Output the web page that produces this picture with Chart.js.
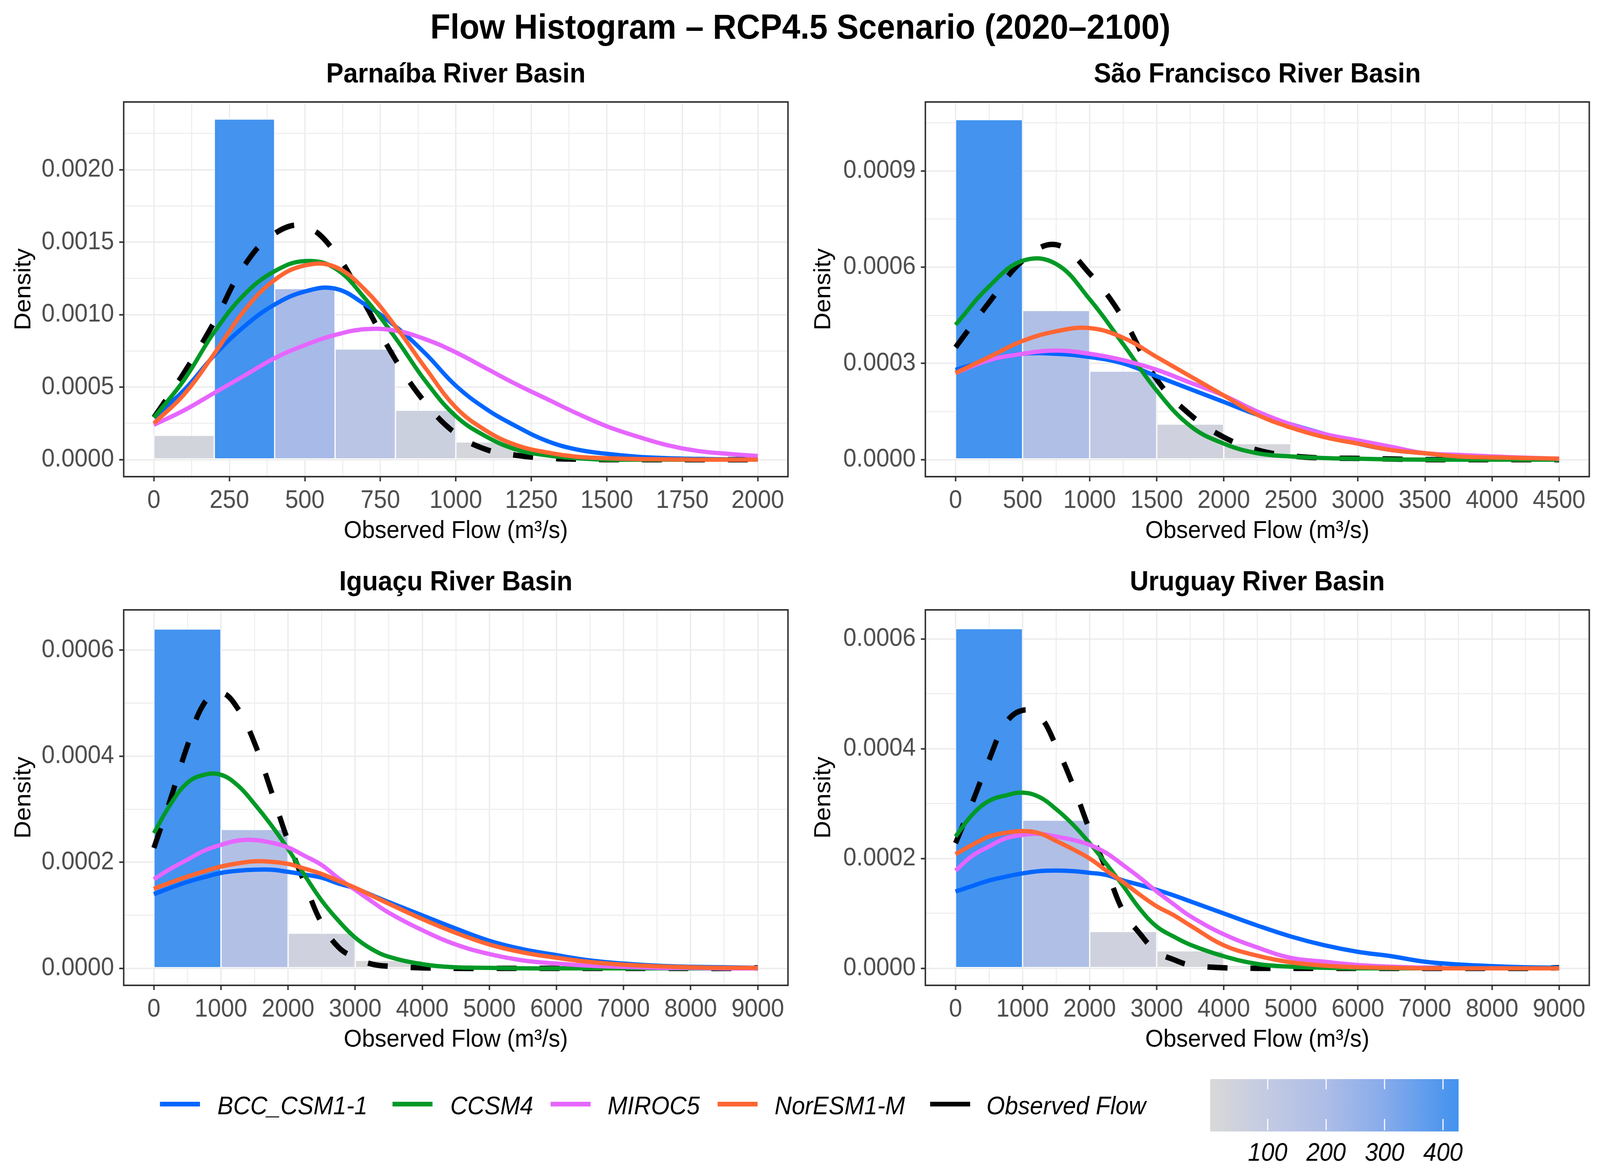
<!DOCTYPE html>
<html>
<head>
<meta charset="utf-8">
<title>Flow Histogram</title>
<script src="https://cdn.jsdelivr.net/npm/chart.js@4/dist/chart.umd.min.js"></script>
<style>
  html, body { margin: 0; padding: 0; background: #fff; overflow: hidden; }
  #page { width: 4321px; height: 3010px; position: relative; transform-origin: 0 0; font-family: "Liberation Sans", Arial, sans-serif; }
  canvas { position: absolute; }
  #mainTitle { position: absolute; left: 0; width: 4323px; top: 19px; text-align: center; font-size: 88.6px; line-height: 100px; font-weight: bold; color: #000; }
  .key { position: absolute; top: 2820px; width: 108px; height: 12px; }
  .label { position: absolute; top: 2793px; font-size: 64px; line-height: 74px; font-style: italic; color: #000; white-space: nowrap; }
</style>
</head>
<body>
<div id="page">
<div id="mainTitle">Flow Histogram – RCP4.5 Scenario (2020–2100)</div>
<canvas id="c1" width="2160" height="1270" style="left:0;top:150px"></canvas>
<canvas id="c2" width="2161" height="1270" style="left:2160px;top:150px"></canvas>
<canvas id="c3" width="2160" height="1270" style="left:0;top:1450px"></canvas>
<canvas id="c4" width="2161" height="1270" style="left:2160px;top:1450px"></canvas>
<canvas id="bar" width="1000" height="260" style="left:3100px;top:2740px"></canvas>
</div>
<script>
// the window can be narrower than the 4321 wide layout, squeeze it in
document.getElementById('page').style.transform = 'scale(' + (window.innerWidth / 4321) + ',1)';

// series names and colours
var seriesNames = ['Observed Flow', 'BCC_CSM1-1', 'CCSM4', 'MIROC5', 'NorESM1-M'];
var seriesColors = ['#000000', '#0066FF', '#009926', '#E666FF', '#FF6633'];
var legendOrder = ['BCC_CSM1-1', 'CCSM4', 'MIROC5', 'NorESM1-M', 'Observed Flow'];

// Parnaiba
var parnaibaX = [0, 100, 200, 300, 400, 500, 600, 700, 800, 900, 1000, 1100, 1200, 1300, 1400, 1500, 1600, 1700, 1800, 1900, 2000];
var parnaibaObs = [.00029, .00060, .00095, .00134, .00156, .00161, .00143, .00107, .00069, .00039, .00018, .00007, .00003, .00001, .000003, 0, 0, 0, 0, 0, 0];
var parnaibaBcc = [.00029, .00048, .00072, .00092, .00107, .00116, .00118, .00107, .00092, .00073, .00051, .00035, .00023, .00013, .00007, .00004, .00002, .00001, .000005, .000002, 0];
var parnaibaCcsm = [.00029, .00055, .00088, .00114, .00130, .00137, .00132, .00111, .00084, .00054, .00030, .00016, .00007, .00003, .00001, 0, 0, 0, 0, 0, 0];
var parnaibaMiroc = [.00024, .00034, .00046, .00058, .00070, .00079, .00086, .00090, .00089, .00083, .00074, .00063, .00052, .00042, .00032, .00023, .00016, .00010, .00006, .00004, .000025];
var parnaibaNor = [.00025, .00045, .00073, .00103, .00124, .00134, .00133, .00117, .00092, .00063, .00036, .00020, .00010, .00005, .00002, .00001, .000004, .000002, 0, 0, 0];
var parnaibaBinX = [100, 300, 500, 700, 900, 1100, 1300];
var parnaibaBins = [.000168, .00235, .00118, .000764, .000341, .000122, .000012];
var parnaibaXTicks = [0, 250, 500, 750, 1000, 1250, 1500, 1750, 2000];
var parnaibaXMinor = [125, 375, 625, 875, 1125, 1375, 1625, 1875];
var parnaibaYTicks = [0, .0005, .001, .0015, .002];
var parnaibaYMinor = [.00025, .00075, .00125, .00175, .00225];

// Sao Francisco
var saoX = [0, 250, 500, 750, 1000, 1250, 1500, 1750, 2000, 2250, 2500, 2750, 3000, 3250, 3500, 3750, 4000, 4250, 4500];
var saoObs = [.00035, .00049, .00062, .00067, .00058, .00044, .00025, .00014, .00007, .00003, .000012, .000005, .000004, .000002, 0, 0, 0, 0, 0];
var saoBcc = [.00028, .00031, .00033, .00033, .00032, .00030, .00026, .00022, .00018, .00014, .00011, .00008, .00005, .00003, .00002, .00001, .000005, .000002, 0];
var saoCcsm = [.00042, .00054, .00062, .00061, .00050, .00036, .000215, .000105, .00005, .00002, .00001, .000005, .000003, .000001, 0, 0, 0, 0, 0];
var saoMiroc = [.00027, .00031, .00033, .00034, .00033, .00031, .00028, .00024, .00020, .00015, .00011, .00008, .00006, .00004, .00002, .000015, .00001, .000006, .000003];
var saoNor = [.00027, .00032, .00037, .00040, .00041, .00038, .00032, .00026, .00020, .00014, .00010, .00007, .00005, .00003, .00002, .00001, .000007, .000005, .000003];
var saoBinX = [250, 750, 1250, 1750, 2250, 2750];
var saoBins = [.00106, .000465, .000276, .000111, .00005, .00001];
var saoXTicks = [0, 500, 1000, 1500, 2000, 2500, 3000, 3500, 4000, 4500];
var saoXMinor = [250, 750, 1250, 1750, 2250, 2750, 3250, 3750, 4250];
var saoYTicks = [0, .0003, .0006, .0009];
var saoYMinor = [.00015, .00045, .00075, .00105];

// Iguacu
var iguacuX = [0, 250, 500, 750, 1000, 1250, 1500, 1750, 2000, 2250, 2500, 2750, 3000, 3250, 3500, 4000, 4500, 5000, 5500, 6000, 6500, 7000, 7500, 8000, 8500, 9000];
var iguacuObs = [.000227, .00032, .00042, .00050, .00052, .00049, .000425, .000334, .00024, .00016, .000085, .00004, .00002, .000008, .000004, .000001, 0, 0, 0, 0, 0, 0, 0, 0, 0, .000001];
var iguacuBcc = [.00014, .000152, .000163, .000172, .00018, .000184, .000186, .000186, .000182, .000177, .000171, .00016, .000151, .000138, .000125, .0001, .000075, .000052, .000036, .000025, .000015, .000009, .000005, .000003, .000002, .000001];
var iguacuCcsm = [.000255, .00031, .00035, .000365, .000365, .000345, .00031, .00027, .000225, .000175, .000128, .00009, .000058, .000036, .000022, .000008, .000002, .000001, 0, 0, 0, 0, 0, 0, 0, 0];
var iguacuMiroc = [.000168, .000188, .000205, .000222, .000233, .000241, .000242, .000237, .000228, .000212, .000195, .00017, .000148, .000126, .000105, .000072, .000045, .000027, .000015, .000009, .000005, .000003, .000001, .000001, 0, 0];
var iguacuNor = [.00015, .000162, .000173, .000183, .000192, .000198, .000202, .000201, .000197, .000188, .000178, .000165, .000152, .000137, .000122, .000093, .000067, .000045, .00003, .00002, .000012, .000007, .000004, .000002, .000001, .000001];
var iguacuBinX = [500, 1500, 2500, 3500, 4500];
var iguacuBins = [.00064, .000262, .0000665, .000015, .000003];
var iguacuXTicks = [0, 1000, 2000, 3000, 4000, 5000, 6000, 7000, 8000, 9000];
var iguacuXMinor = [500, 1500, 2500, 3500, 4500, 5500, 6500, 7500, 8500];
var iguacuYTicks = [0, .0002, .0004, .0006];
var iguacuYMinor = [.0001, .0003, .0005];

// Uruguay
var uruguayX = [0, 250, 500, 750, 1000, 1250, 1500, 1750, 2000, 2250, 2500, 2750, 3000, 3250, 3500, 4000, 4500, 5000, 5500, 6000, 6500, 7000, 7500, 8000, 8500, 9000];
var uruguayObs = [.000228, .000302, .00038, .000447, .00047, .00046, .000405, .000334, .000252, .00018, .000104, .000063, .00003, .000016, .000006, .000001, 0, 0, 0, 0, 0, 0, 0, 0, 0, .000001];
var uruguayBcc = [.00014, .00015, .00016, .000167, .000173, .000177, .000178, .000177, .000174, .00017, .00016, .000152, .000143, .000133, .000122, .0001, .000078, .000058, .000042, .00003, .000022, .000012, .000007, .000004, .000002, .000001];
var uruguayCcsm = [.00024, .00028, .000305, .000315, .00032, .000312, .00029, .000262, .000228, .00019, .00015, .000108, .000076, .000058, .000043, .000022, .000008, .000003, .000001, 0, 0, 0, 0, 0, 0, 0];
var uruguayMiroc = [.000178, .000205, .000222, .000237, .000243, .000245, .00024, .000234, .000225, .00021, .000188, .000165, .00014, .000117, .000095, .000062, .000038, .000019, .000012, .000006, .000003, .000001, 0, 0, 0, 0];
var uruguayNor = [.000208, .000225, .00024, .000247, .00025, .000246, .000232, .000217, .0002, .000178, .000157, .000134, .000113, .000097, .000078, .000042, .000023, .000011, .000005, .000002, .000001, 0, 0, 0, 0, 0];
var uruguayBinX = [500, 1500, 2500, 3500, 4500, 5500];
var uruguayBins = [.000619, .00027, .0000672, .0000319, .000005, .000001];
var uruguayXTicks = iguacuXTicks;
var uruguayXMinor = iguacuXMinor;
var uruguayYTicks = [0, .0002, .0004, .0006];
var uruguayYMinor = [.0001, .0003, .0005];

// histogram fill ramp, position along the colour bar -> colour
var rampStops = [0, .23, .47, .70, .94, 1];
var rampColors = ['#D9D9D9', '#C3CAE3', '#ADBDE7', '#87ABEB', '#4F97EE', '#4393EF'];
var countTicks = [100, 200, 300, 400];
var countRange = [1.5, 426.6];

var panels = [
  {id: 'c1', title: 'Parnaíba River Basin', x: parnaibaX, lines: [parnaibaObs, parnaibaBcc, parnaibaCcsm, parnaibaMiroc, parnaibaNor], binX: parnaibaBinX, bins: parnaibaBins, xTicks: parnaibaXTicks, xMinor: parnaibaXMinor, yTicks: parnaibaYTicks, yMinor: parnaibaYMinor, xRange: [-100, 2100], yRange: [-.0001175, .0024675], axisW: 334, padRight: 32, padBottom: 10},
  {id: 'c2', title: 'São Francisco River Basin', x: saoX, lines: [saoObs, saoBcc, saoCcsm, saoMiroc, saoNor], binX: saoBinX, bins: saoBins, xTicks: saoXTicks, xMinor: saoXMinor, yTicks: saoYTicks, yMinor: saoYMinor, xRange: [-225, 4725], yRange: [-.000053, .001115], axisW: 339, padRight: 29, padBottom: 10},
  {id: 'c3', title: 'Iguaçu River Basin', x: iguacuX, lines: [iguacuObs, iguacuBcc, iguacuCcsm, iguacuMiroc, iguacuNor], binX: iguacuBinX, bins: iguacuBins, xTicks: iguacuXTicks, xMinor: iguacuXMinor, yTicks: iguacuYTicks, yMinor: iguacuYMinor, xRange: [-450, 9450], yRange: [-.000032, .000676], axisW: 334, padRight: 32, padBottom: 8},
  {id: 'c4', title: 'Uruguay River Basin', x: uruguayX, lines: [uruguayObs, uruguayBcc, uruguayCcsm, uruguayMiroc, uruguayNor], binX: uruguayBinX, bins: uruguayBins, xTicks: uruguayXTicks, xMinor: uruguayXMinor, yTicks: uruguayYTicks, yMinor: uruguayYMinor, xRange: [-450, 9450], yRange: [-.000031, .000653], axisW: 339, padRight: 29, padBottom: 8}
];

Chart.defaults.font.family = '"Liberation Sans", Arial, sans-serif';
Chart.defaults.animation = false;

function hexToRgb(h) {
  return [parseInt(h.substr(1, 2), 16), parseInt(h.substr(3, 2), 16), parseInt(h.substr(5, 2), 16)];
}

function rampColor(f) {
  for (var i = 1; i < rampStops.length; i++) {
    if (f <= rampStops[i]) {
      var t = (f - rampStops[i - 1]) / (rampStops[i] - rampStops[i - 1]);
      var a = hexToRgb(rampColors[i - 1]), b = hexToRgb(rampColors[i]);
      return 'rgb(' + a.map(function (v, k) { return Math.round(v + (b[k] - v) * t); }).join(',') + ')';
    }
  }
  return rampColors[rampColors.length - 1];
}

var panelBorder = {
  id: 'panelBorder',
  afterDraw: function (chart) {
    var a = chart.chartArea, c = chart.ctx;
    c.save();
    c.strokeStyle = '#333333';
    c.lineWidth = 4;
    c.strokeRect(a.left, a.top, a.right - a.left, a.bottom - a.top);
    c.restore();
  }
};

function setTicks(list) {
  return function (scale) {
    scale.ticks = list.map(function (v) { return {value: v}; });
  };
}

function drawPanel(p) {
  var datasets = [{
    type: 'bar',
    data: p.binX.map(function (x, i) { return {x: x, y: p.bins[i]}; }),
    backgroundColor: p.bins.map(function (v) { return rampColor(v / Math.max.apply(null, p.bins)); }),
    borderColor: '#FFFFFF',
    borderWidth: 2,
    borderSkipped: false,
    barPercentage: 1,
    categoryPercentage: 1,
    order: 10
  }];
  seriesNames.forEach(function (name, i) {
    datasets.push({
      type: 'line',
      label: name,
      data: p.x.map(function (x, k) { return {x: x, y: p.lines[i][k]}; }),
      borderColor: seriesColors[i],
      borderWidth: i === 0 ? 14 : 11,
      borderDash: i === 0 ? [54, 62] : [],
      tension: 0.4,
      pointRadius: 0,
      fill: false,
      order: 5 - i
    });
  });

  new Chart(document.getElementById(p.id), {
    type: 'bar',
    data: {datasets: datasets},
    plugins: [panelBorder],
    options: {
      responsive: false,
      devicePixelRatio: 1,
      layout: {padding: {left: 0, top: 0, right: p.padRight, bottom: p.padBottom}},
      plugins: {
        legend: {display: false},
        tooltip: {enabled: false},
        title: {
          display: true,
          text: p.title,
          fullSize: false,
          color: '#000',
          font: {size: 70, weight: 'bold', lineHeight: 1.2},
          padding: {top: 0, bottom: 27}
        }
      },
      scales: {
        x: {
          type: 'linear',
          offset: false,
          min: p.xRange[0],
          max: p.xRange[1],
          afterBuildTicks: setTicks(p.xTicks),
          afterFit: function (s) { s.height = 190; },
          grid: {offset: false, color: '#EBEBEB', lineWidth: 3.5, tickColor: '#333333', tickWidth: 4, tickLength: 12},
          border: {display: false},
          ticks: {autoSkip: false, maxRotation: 0, color: '#4D4D4D', font: {size: 64}, padding: 12, callback: function (v) { return String(v); }},
          title: {display: true, text: 'Observed Flow (m³/s)', color: '#000', font: {size: 63, lineHeight: 1.2}, padding: {top: 0, bottom: 13}}
        },
        xMinor: {
          type: 'linear', axis: 'x', position: 'bottom',
          offset: false,
          min: p.xRange[0],
          max: p.xRange[1],
          afterBuildTicks: setTicks(p.xMinor),
          afterFit: function (s) { s.height = 0; },
          grid: {offset: false, color: '#EFEFEF', lineWidth: 3, drawTicks: false},
          border: {display: false},
          ticks: {display: false}
        },
        y: {
          type: 'linear',
          min: p.yRange[0],
          max: p.yRange[1],
          afterBuildTicks: setTicks(p.yTicks),
          afterFit: function (s) { s.width = p.axisW; },
          grid: {color: '#EBEBEB', lineWidth: 3.5, tickColor: '#333333', tickWidth: 4, tickLength: 12},
          border: {display: false},
          ticks: {autoSkip: false, color: '#4D4D4D', font: {size: 64}, padding: 14, callback: function (v) { return v.toFixed(4); }},
          title: {display: true, text: 'Density', color: '#000', font: {size: 63, lineHeight: 1.2}, padding: {top: 27, bottom: 0}}
        },
        yMinor: {
          type: 'linear', axis: 'y', position: 'left',
          min: p.yRange[0],
          max: p.yRange[1],
          afterBuildTicks: setTicks(p.yMinor),
          afterFit: function (s) { s.width = 0; },
          grid: {color: '#EFEFEF', lineWidth: 3, drawTicks: false},
          border: {display: false},
          ticks: {display: false}
        }
      }
    }
  });
}

panels.forEach(drawPanel);

// line key legend
var keyLeft = [432, 1060, 1487, 1938, 2512];
var labelLeft = [587, 1216, 1641, 2092, 2664];
var page = document.getElementById('page');
legendOrder.forEach(function (name, i) {
  var key = document.createElement('div');
  key.className = 'key';
  key.style.left = keyLeft[i] + 'px';
  key.style.background = seriesColors[seriesNames.indexOf(name)];
  page.appendChild(key);
  var label = document.createElement('div');
  label.className = 'label';
  label.style.left = labelLeft[i] + 'px';
  label.textContent = name;
  page.appendChild(label);
});

// colour bar with white tick marks
var barTicks = {
  id: 'barTicks',
  afterDatasetsDraw: function (chart) {
    var a = chart.chartArea, c = chart.ctx, s = chart.scales.x;
    c.save();
    c.strokeStyle = '#FFFFFF';
    c.lineWidth = 3;
    countTicks.forEach(function (v) {
      var px = s.getPixelForValue(v);
      c.beginPath();
      c.moveTo(px, a.top);
      c.lineTo(px, a.top + 26);
      c.moveTo(px, a.bottom - 32);
      c.lineTo(px, a.bottom - 3);
      c.stroke();
    });
    c.restore();
  }
};

new Chart(document.getElementById('bar'), {
  type: 'bar',
  data: {
    labels: ['count'],
    datasets: [{
      data: [countRange],
      barPercentage: 1,
      categoryPercentage: 1,
      backgroundColor: function (ctx) {
        var a = ctx.chart.chartArea;
        if (!a) return rampColors[0];
        var g = ctx.chart.ctx.createLinearGradient(a.left, 0, a.right, 0);
        rampStops.forEach(function (f, i) { g.addColorStop(f, rampColors[i]); });
        return g;
      }
    }]
  },
  plugins: [barTicks],
  options: {
    indexAxis: 'y',
    responsive: false,
    devicePixelRatio: 1,
    layout: {padding: {left: 168, right: 161, top: 22, bottom: 0}},
    plugins: {legend: {display: false}, tooltip: {enabled: false}},
    scales: {
      x: {
        type: 'linear',
        min: countRange[0],
        max: countRange[1],
        afterBuildTicks: setTicks(countTicks),
        afterFit: function (s) { s.height = 104; },
        grid: {display: false},
        border: {display: false},
        ticks: {autoSkip: false, maxRotation: 0, color: '#000', font: {size: 64, style: 'italic'}, padding: 11}
      },
      y: {display: false}
    }
  }
});
</script>
</body>
</html>
